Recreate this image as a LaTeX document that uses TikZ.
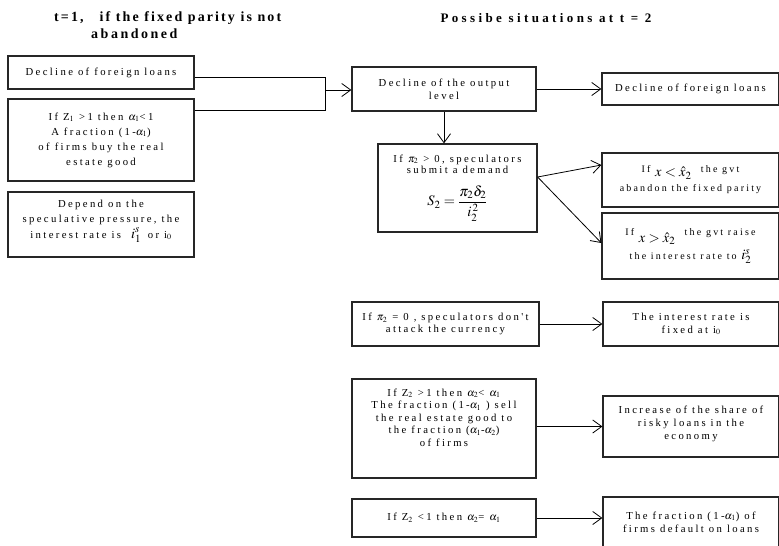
\documentclass[tikz,border=0pt]{standalone}
\usepackage{amsmath}
\usepackage{mathptmx}
\usepackage{fontspec}
\setmainfont{Liberation Serif}
\newfontfamily\boxfont[LetterSpace=22]{Liberation Serif}
\usetikzlibrary{arrows.meta}

\begin{document}
\begin{tikzpicture}[x=1pt,y=-1pt,
    box/.style={draw=black!85, line width=1.2pt, align=center, inner sep=2pt,
      font=\boxfont\fontsize{10.7}{13}\selectfont},
    arr/.style={-{Straight Barb[length=9pt,width=13pt]}, line width=0.8pt},
    ttl/.style={align=left, font=\bfseries\fontsize{14}{17}\selectfont}]
  \useasboundingbox (0,0) rectangle (779,546);
  % titles
  \node[ttl, anchor=west, inner sep=0pt] (t1) at (54,25)
    {{\addfontfeatures{LetterSpace=15}t=1,\hspace{16pt}if the fixed parity is not}\\
     \hspace*{37pt}{\addfontfeatures{LetterSpace=18}abandoned}};
  \node[ttl, font=\bfseries\fontsize{13}{16}\selectfont\addfontfeatures{LetterSpace=26}] (t2) at (546,18)
    {Possibe situations at t = 2};
  % t = 1
  \node[box, minimum width=186pt, minimum height=33pt] (L1) at (101,72.5) {Decline of foreign loans};
  \node[box, minimum width=186pt, minimum height=82pt,
        font=\boxfont\fontsize{10.7}{15}\selectfont] (L2) at (101,140)
    {If Z$_1$ >1 then $\alpha_1$<1\\A fraction (1-$\alpha_1$)\\of firms buy the real\\estate good};
  \node[box, minimum width=186pt, minimum height=65pt,
        font=\boxfont\fontsize{10.7}{15}\selectfont] (L3) at (101,224.5)
    {Depend on the\\speculative pressure, the\\[1pt]interest rate is \ {\Large$\boldsymbol{i}_1^{s}$} \,or i$_0$\\[-4pt]};
  % t = 2, middle column
  \node[box, minimum width=184pt, minimum height=44pt] (M1) at (444,89) {Decline of the output\\level};
  \node[box, minimum width=159pt, minimum height=88pt,
        font=\boxfont\fontsize{10.7}{11}\selectfont] (M2) at (457.5,188)
    {If $\pi_2$ > 0, speculators\\submit a demand\\[11pt]
     {\Large$S_2 = \dfrac{\pi_2\delta_2}{i_2^{\,2}}$}};
  \node[box, minimum width=187pt, minimum height=44pt,
        font=\boxfont\fontsize{10.7}{11.5}\selectfont] (M3) at (445.5,324)
    {If $\pi_2$ = 0 , speculators don't\\attack the currency};
  \node[box, minimum width=184pt, minimum height=99pt,
        font=\boxfont\fontsize{10.7}{12.5}\selectfont] (M4) at (444,428.5)
    {If Z$_2$ >1 then $\alpha_2$< $\alpha_1$\\The fraction (1-$\alpha_1$ ) sell\\the real estate good to\\the fraction ($\alpha_1$-$\alpha_2$)\\of firms\\[10pt]\mbox{}};
  \node[box, minimum width=184pt, minimum height=38pt] (M5) at (444,518)
    {If Z$_2$ <1 then $\alpha_2$= $\alpha_1$};
  % t = 2, right column
  \node[box, minimum width=177pt, minimum height=32pt] (R1) at (690.5,89) {Decline of foreign loans};
  \node[box, minimum width=177pt, minimum height=54pt,
        font=\boxfont\fontsize{10}{19}\selectfont] (R2) at (690.5,180)
    {If \raisebox{-4pt}{\Large$x < \hat{x}_2$} \ the gvt\\abandon the fixed parity};
  \node[box, minimum width=177pt, minimum height=66pt,
        font=\boxfont\fontsize{10}{24}\selectfont] (R3) at (690.5,246)
    {If \raisebox{-7pt}{\Large$x > \hat{x}_2$} \ the gvt raise\\the interest rate to {\Large$i_2^{s}$}};
  \node[box, minimum width=176pt, minimum height=44pt] (R4) at (691,324) {The interest rate is\\fixed at i$_0$};
  \node[box, minimum width=176pt, minimum height=61pt] (R5) at (691,426.5)
    {Increase of the share of\\risky loans in the\\economy\\[-6pt]};
  \node[box, minimum width=176pt, minimum height=50pt] (R6) at (691,522)
    {The fraction (1-$\alpha_1$) of\\firms default on loans};
  % joint of the two t = 1 boxes
  \coordinate (j1) at (325,77);
  \coordinate (j2) at (325,110);
  \coordinate (jm) at (325,90);
  \begin{scope}[line width=0.8pt]
    \draw (L1.east |- j1) -- (j1) -- (j2) -- (L2.east |- j2);
    \draw[arr] (jm) -- (M1.west |- jm);
    \draw[arr] (M1) -- (R1);
    \draw[arr] (M1.south) -- (M1.south |- M2.north);
    \draw[arr] ([yshift=11pt]M2.east) -- ([yshift=15pt]R2.west);
    \draw[arr] ([yshift=11pt]M2.east) -- ([yshift=3pt]R3.west);
    \draw[arr] (M3) -- (R4);
    \draw[arr] (M4.east |- R5) -- (R5);
    \draw[arr] (M5.east) -- (R6.west |- M5.east);
  \end{scope}
\end{tikzpicture}
\end{document}
